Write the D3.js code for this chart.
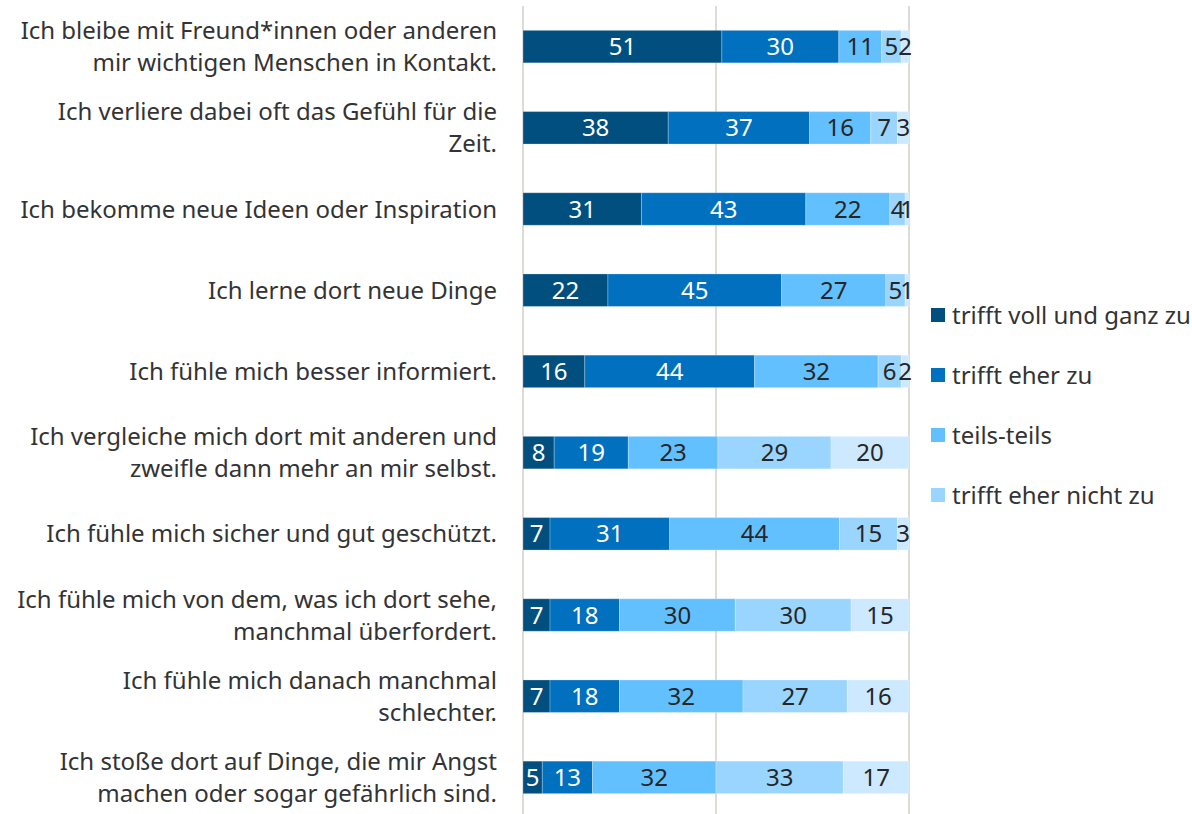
<!DOCTYPE html>
<html>
<head>
<meta charset="utf-8">
<script src="https://cdn.jsdelivr.net/npm/d3@7"></script>
<style>
  body { margin: 0; background: #fff; }
  text { font-family: "Noto Sans", "Open Sans", sans-serif; }
</style>
</head>
<body>
<div id="chart"></div>
<script>
var width = 1192, height = 814;

/* Statements, two lines each where the original wraps */
var categories = [
    ["Ich bleibe mit Freund*innen oder anderen", "mir wichtigen Menschen in Kontakt."],
    ["Ich verliere dabei oft das Gefühl für die", "Zeit."],
    ["Ich bekomme neue Ideen oder Inspiration"],
    ["Ich lerne dort neue Dinge"],
    ["Ich fühle mich besser informiert."],
    ["Ich vergleiche mich dort mit anderen und", "zweifle dann mehr an mir selbst."],
    ["Ich fühle mich sicher und gut geschützt."],
    ["Ich fühle mich von dem, was ich dort sehe,", "manchmal überfordert."],
    ["Ich fühle mich danach manchmal", "schlechter."],
    ["Ich stoße dort auf Dinge, die mir Angst", "machen oder sogar gefährlich sind."]
];

var seriesNames = ["trifft voll und ganz zu", "trifft eher zu", "teils-teils", "trifft eher nicht zu", "trifft gar nicht zu"];
var seriesColors = ["#004f7f", "#0070bf", "#63c0ff", "#9ad5ff", "#cce9ff"];
var labelColors = ["#ffffff", "#ffffff", "#262626", "#262626", "#262626"];

var vollUndGanz = [51, 38, 31, 22, 16, 8, 7, 7, 7, 5];
var eherZu      = [30, 37, 43, 45, 44, 19, 31, 18, 18, 13];
var teilsTeils  = [11, 16, 22, 27, 32, 23, 44, 30, 32, 32];
var eherNicht   = [5, 7, 4, 5, 6, 29, 15, 30, 27, 33];
var garNicht    = [2, 3, 1, 1, 2, 20, 3, 15, 16, 17];

var seriesValues = [vollUndGanz, eherZu, teilsTeils, eherNicht, garNicht];

/* 100% stacked: each row is scaled to its own total */
var rows = categories.map(function (c, i) {
    var total = d3.sum(seriesValues, function (s) { return s[i]; });
    var acc = 0;
    return seriesValues.map(function (s, k) {
        var seg = { row: i, series: k, value: s[i], x0: acc / total * 100 };
        acc += s[i];
        seg.x1 = acc / total * 100;
        return seg;
    });
});

var plotLeft = 523, plotRight = 909, plotTop = 6, plotBottom = 818;
var fontSize = 24;

var x = d3.scaleLinear().domain([0, 100]).range([plotLeft, plotRight]);
var y = d3.scaleBand().domain(d3.range(categories.length))
    .range([plotTop, plotBottom]).paddingInner(0.6).paddingOuter(0.3);

var svg = d3.select("#chart").append("svg")
    .attr("width", width)
    .attr("height", height);

/* Vertical gridlines */
svg.append("g").selectAll("line")
    .data([0, 50, 100])
    .join("line")
    .attr("x1", function (d) { return x(d); })
    .attr("x2", function (d) { return x(d); })
    .attr("y1", plotTop)
    .attr("y2", height)
    .attr("stroke", "#dedad6")
    .attr("stroke-width", 2);

/* Bars */
var rowG = svg.append("g").selectAll("g")
    .data(rows)
    .join("g");

rowG.selectAll("rect")
    .data(function (d) { return d; })
    .join("rect")
    .attr("x", function (d) { return x(d.x0); })
    .attr("width", function (d) { return x(d.x1) - x(d.x0); })
    .attr("y", function (d) { return y(d.row); })
    .attr("height", y.bandwidth())
    .attr("fill", function (d) { return seriesColors[d.series]; })
    .attr("stroke", "#ffffff")
    .attr("stroke-opacity", 0.25)
    .attr("stroke-width", 1);

/* Value labels centred in each segment */
rowG.selectAll("text")
    .data(function (d) { return d; })
    .join("text")
    .attr("x", function (d) { return (x(d.x0) + x(d.x1)) / 2; })
    .attr("y", function (d) { return y(d.row) + y.bandwidth() / 2; })
    .attr("dy", "0.36em")
    .attr("text-anchor", "middle")
    .attr("font-size", fontSize)
    .attr("fill", function (d) { return labelColors[d.series]; })
    .text(function (d) { return d.value; });

/* Category labels */
var catG = svg.append("g").selectAll("text")
    .data(categories)
    .join("text")
    .attr("text-anchor", "end")
    .attr("font-size", fontSize)
    .attr("fill", "#333333")
    .attr("transform", function (d, i) {
        var cy = y(i) + y.bandwidth() / 2;
        return "translate(497," + (cy - (d.length - 1) * 16) + ")";
    });

catG.selectAll("tspan")
    .data(function (d) { return d; })
    .join("tspan")
    .attr("x", 0)
    .attr("dy", function (d, j) { return j === 0 ? "0.36em" : 32; })
    .text(function (d) { return d; });

/* Legend (first four series, as in the original) */
var legend = svg.append("g").selectAll("g")
    .data(seriesNames.slice(0, 4))
    .join("g")
    .attr("transform", function (d, i) { return "translate(931," + (315 + i * 60) + ")"; });

legend.append("rect")
    .attr("x", 0)
    .attr("y", -7)
    .attr("width", 14)
    .attr("height", 14)
    .attr("fill", function (d, i) { return seriesColors[i]; });

legend.append("text")
    .attr("x", 21)
    .attr("dy", "0.36em")
    .attr("font-size", fontSize)
    .attr("fill", "#333333")
    .text(function (d) { return d; });
</script>
</body>
</html>
